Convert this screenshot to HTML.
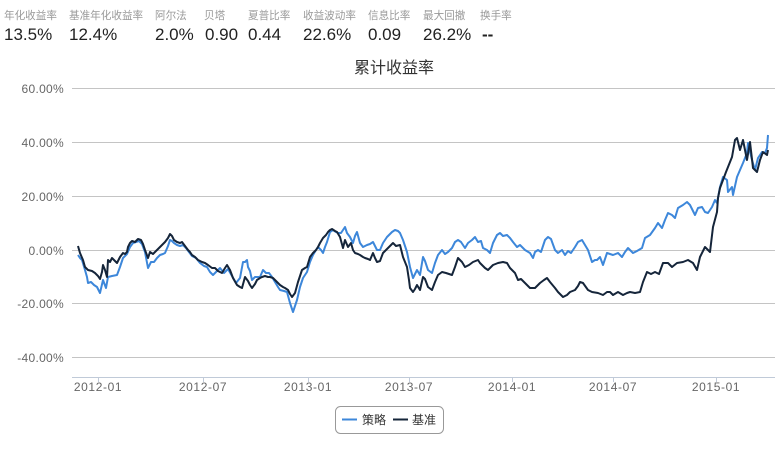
<!DOCTYPE html>
<html><head><meta charset="utf-8"><style>
html,body{margin:0;padding:0;background:#fff;}
body{width:783px;height:453px;position:relative;overflow:hidden;font-family:"Liberation Sans","Noto Sans CJK SC",sans-serif;}
.h{position:absolute;white-space:nowrap;}
.lb{top:8px;font-size:10.6px;color:#999;}
.vl{top:25px;font-size:17px;color:#222;}
</style></head><body>
<div class="h lb" style="left:4px">年化收益率</div>
<div class="h lb" style="left:69px">基准年化收益率</div>
<div class="h lb" style="left:155px">阿尔法</div>
<div class="h lb" style="left:204px">贝塔</div>
<div class="h lb" style="left:248px">夏普比率</div>
<div class="h lb" style="left:303px">收益波动率</div>
<div class="h lb" style="left:368px">信息比率</div>
<div class="h lb" style="left:423px">最大回撤</div>
<div class="h lb" style="left:480px">换手率</div>
<div class="h vl" style="left:4px">13.5%</div>
<div class="h vl" style="left:69px">12.4%</div>
<div class="h vl" style="left:155px">2.0%</div>
<div class="h vl" style="left:205px">0.90</div>
<div class="h vl" style="left:248px">0.44</div>
<div class="h vl" style="left:303px">22.6%</div>
<div class="h vl" style="left:368px">0.09</div>
<div class="h vl" style="left:423px">26.2%</div>
<div class="h vl" style="left:482px;font-weight:bold">--</div>
<svg width="783" height="453" style="position:absolute;left:0;top:0" xmlns="http://www.w3.org/2000/svg">
<text x="394" y="73" text-anchor="middle" font-size="16" fill="#333" font-family="Liberation Sans, Noto Sans CJK SC, sans-serif">累计收益率</text>
<g stroke="#c4c4c4" stroke-width="1">
<line x1="72" y1="88.5" x2="775" y2="88.5"/>
<line x1="72" y1="142.5" x2="775" y2="142.5"/>
<line x1="72" y1="196.5" x2="775" y2="196.5"/>
<line x1="72" y1="250.5" x2="775" y2="250.5"/>
<line x1="72" y1="303.5" x2="775" y2="303.5"/>
<line x1="72" y1="357.5" x2="775" y2="357.5"/>
</g>
<line x1="72" y1="377.5" x2="775" y2="377.5" stroke="#c0cad8" stroke-width="1"/>
<g stroke="#c0cad8" stroke-width="1">
<line x1="98.5" y1="377" x2="98.5" y2="382"/>
<line x1="203.5" y1="377" x2="203.5" y2="382"/>
<line x1="308.5" y1="377" x2="308.5" y2="382"/>
<line x1="409.5" y1="377" x2="409.5" y2="382"/>
<line x1="512.5" y1="377" x2="512.5" y2="382"/>
<line x1="613.5" y1="377" x2="613.5" y2="382"/>
<line x1="716.5" y1="377" x2="716.5" y2="382"/>
</g>
<g font-size="12" fill="#666" text-anchor="end" font-family="Liberation Sans, sans-serif" letter-spacing="0.3">
<text x="64" y="93">60.00%</text>
<text x="64" y="147">40.00%</text>
<text x="64" y="201">20.00%</text>
<text x="64" y="255">0.00%</text>
<text x="64" y="308">-20.00%</text>
<text x="64" y="362">-40.00%</text>
</g>
<g font-size="12" fill="#666" text-anchor="middle" font-family="Liberation Sans, sans-serif" letter-spacing="0.6">
<text x="98" y="391">2012-01</text>
<text x="203" y="391">2012-07</text>
<text x="308" y="391">2013-01</text>
<text x="409" y="391">2013-07</text>
<text x="512" y="391">2014-01</text>
<text x="613" y="391">2014-07</text>
<text x="716" y="391">2015-01</text>
</g>
<polyline fill="none" stroke="#3d87da" stroke-width="2" stroke-linejoin="round" points="78,255 80,258 82,260 85,270 87,277 88,283 91,282 94,285 97,287 100,293 103,280 106,288 108,277 112,276 117,275 120,267 123,258 125,256 127,254 130,247 133,243 136,242 139,241 142,244 145,252 148,268 151,262 154,262 157,258 160,255 163,254 165,253 168,246 170,240 172,241 174,243 177,245 180,246 183,245 186,248 189,252 192,256 196,258 200,263 204,266 207,267 210,272 213,275 216,272 220,268 224,273 228,269 232,276 236,283 240,278 243,262 245,262 247,260 248,267 250,271 252,280 255,277 258,277 260,277 263,270 266,273 269,273 272,277 275,282 278,287 280,290 284,291 287,292 290,303 293,312 295,306 297,300 300,287 303,278 307,272 310,262 313,255 316,250 318,247 321,250 323,253 325,247 327,242 330,232 333,230 336,232 338,233 341,233 343,230 345,227 347,233 350,237 353,243 355,236 357,232 360,243 363,247 367,245 370,244 373,242 377,250 380,250 383,243 387,237 390,234 392,232 395,230 398,231 400,233 403,240 407,252 410,267 413,278 417,270 420,275 423,257 425,261 428,270 432,273 435,263 438,255 442,250 445,254 448,252 452,248 455,242 458,240 461,242 465,248 468,243 472,240 475,237 478,242 481,241 483,248 487,250 490,253 493,243 497,235 500,233 503,236 507,235 510,238 513,242 517,247 520,245 525,250 530,253 533,258 535,252 538,250 541,252 545,240 548,237 551,239 555,250 558,253 562,250 565,255 568,251 571,253 575,247 578,242 582,240 585,245 588,250 592,262 595,260 597,260 600,257 603,265 607,253 610,254 613,255 618,253 622,257 625,252 628,248 633,253 637,251 642,248 645,238 650,235 655,228 658,223 662,228 665,220 668,213 672,215 675,218 678,208 683,205 687,202 690,205 695,215 698,208 702,207 705,212 708,213 712,207 715,200 717,203 720,187 723,177 727,180 728,192 732,187 733,195 737,177 740,170 743,163 745,158 747,153 748,143 752,160 755,170 758,158 762,152 765,153 767,148 768,135"/>
<polyline fill="none" stroke="#15253a" stroke-width="2" stroke-linejoin="round" points="78,246 80,253 83,260 85,267 88,270 92,271 95,273 98,276 100,279 102,272 103,265 105,270 107,277 108,260 110,262 112,258 115,261 117,263 120,257 123,253 125,254 127,252 128,247 130,243 132,241 135,242 138,239 141,240 143,244 145,250 148,258 150,252 153,254 157,250 160,247 163,244 165,242 168,238 170,234 172,236 174,240 177,242 180,243 182,242 185,246 188,250 190,252 192,255 195,257 198,260 202,262 205,263 208,265 212,268 215,268 218,271 222,273 225,268 227,265 230,270 233,278 237,285 240,287 242,288 245,277 248,281 250,285 252,288 255,284 257,280 260,278 262,277 265,276 268,277 270,277 273,278 276,281 280,285 283,287 285,288 288,290 290,294 292,297 295,293 298,282 300,276 302,270 305,268 307,267 310,257 313,253 316,250 318,247 320,243 323,238 326,235 328,232 330,230 332,229 335,231 337,232 340,237 343,248 345,240 348,247 351,243 353,250 355,253 358,254 360,255 363,257 365,258 368,259 370,260 373,253 375,258 377,262 380,261 383,253 386,250 388,248 391,245 393,243 396,246 400,245 403,257 407,267 409,280 410,288 413,292 415,289 417,285 420,290 423,277 425,279 428,287 432,290 435,282 438,275 442,272 446,273 449,274 452,275 455,267 458,258 462,262 465,267 469,265 473,262 478,260 480,263 482,265 485,268 488,270 491,267 493,265 498,263 503,262 507,263 510,268 515,273 518,280 521,279 525,283 530,288 535,288 540,283 544,280 547,278 550,282 555,288 558,292 561,295 563,297 567,295 570,292 575,290 578,286 580,282 583,283 588,290 592,292 598,293 603,295 607,292 610,292 613,295 618,292 623,295 627,293 630,292 635,293 640,292 643,282 647,272 651,274 655,272 659,274 663,263 668,263 672,267 677,263 683,262 688,260 693,263 697,270 700,257 705,247 710,252 713,227 717,212 718,198 720,188 723,180 726,172 728,167 732,157 735,140 737,138 740,150 743,140 747,160 750,142 753,168 757,172 760,160 763,152 767,155 768,150"/>
<rect x="335.5" y="406.5" width="108" height="27" rx="5" ry="5" fill="#fff" stroke="#999" stroke-width="1"/>
<line x1="342" y1="419.5" x2="357" y2="419.5" stroke="#3d87da" stroke-width="2"/>
<text x="362" y="424" font-size="12" fill="#333" font-family="Liberation Sans, Noto Sans CJK SC, sans-serif">策略</text>
<line x1="393" y1="419.5" x2="408" y2="419.5" stroke="#15253a" stroke-width="2"/>
<text x="412" y="424" font-size="12" fill="#333" font-family="Liberation Sans, Noto Sans CJK SC, sans-serif">基准</text>
</svg>
</body></html>
